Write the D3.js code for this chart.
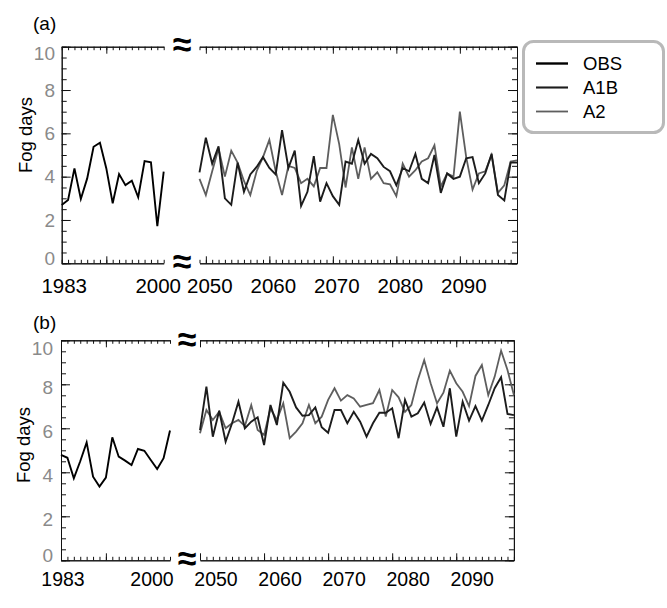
<!DOCTYPE html>
<html><head><meta charset="utf-8">
<script src="https://cdn.jsdelivr.net/npm/d3@7"></script>
<style>body{margin:0;background:#fff} svg{display:block;font-family:"Liberation Sans",Arial,sans-serif}</style>
</head><body><svg id="c" width="667" height="608"></svg>
<script>
// ---------------- data ----------------
const obsYearsA = d3.range(1983, 2000);
const obsA = [2.69, 2.92, 4.38, 2.97, 3.92, 5.38, 5.57, 4.38, 2.77, 4.12, 3.61, 3.81, 3.05, 4.72, 4.66, 1.72, 4.23];
const obsYearsB = d3.range(1983, 2001);
const obsB = [4.79, 4.66, 3.73, 4.5, 5.36, 3.80, 3.35, 3.76, 5.59, 4.71, 4.53, 4.33, 5.06, 4.98, 4.56, 4.15, 4.64, 5.9];

const projYearsA = d3.range(2049, 2100);
const a1bA = [4.2, 5.8, 4.6, 5.4, 3.0, 2.7, 4.65, 3.3, 4.1, 4.45,
              4.9, 4.4, 4.1, 6.15, 4.4, 5.2, 2.65, 3.3, 4.95, 2.85,
              3.7, 3.1, 2.7, 4.7, 4.6, 5.7, 4.6, 5.05, 4.85, 4.45,
              4.25, 3.6, 4.4, 4.25, 5.05, 3.9, 3.7, 5.0, 3.25, 4.15,
              3.9, 4.0, 4.85, 4.9, 3.7, 4.15, 5.05, 3.15, 2.9, 4.65, 4.65];
const a2A = [3.9, 3.15, 4.25, 5.3, 4.0, 5.2, 4.65, 3.8, 3.15, 4.25,
             4.9, 5.7, 4.25, 3.15, 4.5, 4.4, 3.7, 3.9, 3.55, 4.4,
             4.4, 6.85, 5.5, 3.5, 5.35, 3.9, 5.35, 3.9, 4.2, 3.7,
             3.65, 3.1, 4.6, 4.0, 4.3, 4.7, 4.85, 5.45, 3.55, 4.15,
             4.0, 7.0, 4.9, 3.4, 4.15, 4.25, 5.0, 3.25, 3.6, 4.7, 4.75];

const projYearsB = d3.range(2050, 2100);
const a1bB = [5.92, 7.89, 5.62, 6.8, 5.39, 6.23, 7.21, 6.0, 6.3, 6.5,
              5.24, 7.06, 6.15, 8.07, 7.66, 6.95, 6.57, 6.6, 6.95, 6.05,
              5.8, 6.83, 6.83, 6.23, 6.75, 6.3, 5.62, 6.23, 6.71, 6.71,
              6.91, 5.55, 7.29, 6.53, 6.68, 7.17, 6.2, 6.95, 6.07, 7.82,
              5.62, 7.21, 6.35, 7.01, 6.35, 7.06, 7.82, 8.32, 6.65, 6.6];
const a2B = [5.77, 6.83, 6.38, 6.75, 6.0, 6.23, 6.38, 6.1, 7.06, 5.92,
             5.7, 6.9, 6.38, 7.14, 5.55, 5.85, 6.23, 7.06, 6.23, 6.53,
             7.29, 7.82, 7.26, 7.51, 7.36, 6.98, 7.06, 7.14, 7.74, 6.53,
             7.74, 7.41, 6.75, 7.06, 8.2, 9.1, 8.05, 7.14, 7.62, 8.62,
             8.05, 7.66, 7.01, 8.38, 8.88, 7.51, 8.35, 9.53, 8.65, 7.51];

const yTickValues = [0, 2, 4, 6, 8, 10];
const leftTickYears = [1983, 2000];
const rightTickYears = [2050, 2060, 2070, 2080, 2090];
const seriesNames = ["OBS", "A1B", "A2"];
const seriesColors = ["#000000", "#1c1c1c", "#5e5e5e"];
const yTitle = "Fog days";

// ---------------- layout ----------------
const panels = [
  { tag: "(a)", tagY: 30, top: 46.7, bottom: 263.3,
    xL: [61.7, 163.7], xR: [199.5, 517], domL: [1983, 1999], domR: [2049, 2099],
    obsYears: obsYearsA, obs: obsA, projYears: projYearsA, a1b: a1bA, a2: a2A,
    xLabY: 293, xLabSize: 20.5, dxL: [2.5, -5.5], dxR: 4,
    yLabX: 55, yLabOff: v => v === 10 ? 6.5 : v === 0 ? -5 : 0,
    titleX: 31.5, titleY: 135, brkX: 182, brkTop: 44, brkBot: 261 },
  { tag: "(b)", tagY: 329, top: 340.3, bottom: 560.3,
    xL: [61, 170], xR: [200, 513.9], domL: [1983, 2000], domR: [2050, 2099],
    obsYears: obsYearsB, obs: obsB, projYears: projYearsB, a1b: a1bB, a2: a2B,
    xLabY: 586, xLabSize: 19.5, dxL: [2, -18], dxR: 16,
    yLabX: 53, yLabOff: v => v === 10 ? 8 : v === 0 ? -5 : 3,
    titleX: 30, titleY: 445, brkX: 187, brkTop: 339, brkBot: 558 }
];

const svg = d3.select("#c");

panels.forEach(p => {
  const g = svg.append("g");
  const y = d3.scaleLinear().domain([0, 10]).range([p.bottom, p.top]);
  const xL = d3.scaleLinear().domain(p.domL).range(p.xL);
  const xR = d3.scaleLinear().domain(p.domR).range(p.xR);

  const minorY = d3.range(0, 10.001, 0.5);
  const styleAxis = sel => { sel.selectAll("path,line").attr("stroke", "#111").attr("stroke-width", 1); sel.selectAll("text").remove(); };

  // left section axes
  const yrsL = d3.range(p.domL[0], p.domL[1] + 1);
  g.append("g").attr("transform", `translate(0,${p.bottom})`)
    .call(d3.axisBottom(xL).tickValues(yrsL).tickSize(-3.5).tickSizeOuter(0)).call(styleAxis);
  g.append("g").attr("transform", `translate(0,${p.bottom})`)
    .call(d3.axisBottom(xL).tickValues([1990]).tickSize(-7).tickSizeOuter(0)).call(styleAxis);
  g.append("g").attr("transform", `translate(0,${p.top})`)
    .call(d3.axisTop(xL).tickValues(yrsL).tickSize(-3.5).tickSizeOuter(0)).call(styleAxis);
  g.append("g").attr("transform", `translate(0,${p.top})`)
    .call(d3.axisTop(xL).tickValues([1990]).tickSize(-7).tickSizeOuter(0)).call(styleAxis);
  g.append("g").attr("transform", `translate(${p.xL[0]},0)`)
    .call(d3.axisLeft(y).tickValues(minorY).tickSize(-5).tickSizeOuter(0)).call(styleAxis);
  g.append("g").attr("transform", `translate(${p.xL[0]},0)`)
    .call(d3.axisLeft(y).tickValues(yTickValues).tickSize(-9).tickSizeOuter(0)).call(styleAxis);

  // right section axes
  const yrsR = d3.range(Math.ceil(p.domR[0]), p.domR[1] + 1);
  g.append("g").attr("transform", `translate(0,${p.bottom})`)
    .call(d3.axisBottom(xR).tickValues(yrsR).tickSize(-3.5).tickSizeOuter(0)).call(styleAxis);
  g.append("g").attr("transform", `translate(0,${p.bottom})`)
    .call(d3.axisBottom(xR).tickValues(rightTickYears).tickSize(-7).tickSizeOuter(0)).call(styleAxis);
  g.append("g").attr("transform", `translate(0,${p.top})`)
    .call(d3.axisTop(xR).tickValues(yrsR).tickSize(-3.5).tickSizeOuter(0)).call(styleAxis);
  g.append("g").attr("transform", `translate(0,${p.top})`)
    .call(d3.axisTop(xR).tickValues(rightTickYears).tickSize(-7).tickSizeOuter(0)).call(styleAxis);
  g.append("g").attr("transform", `translate(${p.xR[1]},0)`)
    .call(d3.axisRight(y).tickValues(minorY).tickSize(-5).tickSizeOuter(0)).call(styleAxis);
  g.append("g").attr("transform", `translate(${p.xR[1]},0)`)
    .call(d3.axisRight(y).tickValues(yTickValues).tickSize(-9).tickSizeOuter(0)).call(styleAxis);

  // y tick labels
  g.selectAll(".yl").data(yTickValues).join("text")
    .attr("x", p.yLabX).attr("y", d => y(d) + p.yLabOff(d)).attr("dy", "0.35em")
    .attr("text-anchor", "end").attr("font-size", 19).attr("fill", "#8a8a8a").text(d => d);

  // x tick labels
  leftTickYears.forEach((yr, i) => {
    const xx = xL(Math.min(Math.max(yr, p.domL[0]), p.domL[1])) + p.dxL[i];
    g.append("text").attr("x", xx).attr("y", p.xLabY)
      .attr("text-anchor", "middle").attr("font-size", p.xLabSize).attr("fill", "#000").text(yr);
  });
  rightTickYears.forEach(yr => {
    g.append("text").attr("x", xR(yr) + p.dxR).attr("y", p.xLabY)
      .attr("text-anchor", "middle").attr("font-size", p.xLabSize).attr("fill", "#000").text(yr);
  });

  // y title
  g.append("text").attr("transform", `translate(${p.titleX},${p.titleY}) rotate(-90)`)
    .attr("text-anchor", "middle").attr("font-size", 18.5).attr("fill", "#000").text(yTitle);

  // panel tag
  g.append("text").attr("x", 33).attr("y", p.tagY).attr("font-size", 19).attr("fill", "#000").text(p.tag);

  // break symbols
  [p.brkTop, p.brkBot].forEach(by => {
    g.append("text").attr("x", p.brkX).attr("y", by).attr("dominant-baseline", "central")
      .attr("text-anchor", "middle").attr("font-size", 34).attr("font-weight", "bold").attr("fill", "#000").text("\u2248");
  });

  // lines
  const lineL = d3.line().x((d, i) => xL(p.obsYears[i])).y(d => y(d));
  const lineR = d3.line().x((d, i) => xR(p.projYears[i])).y(d => y(d));
  g.append("path").datum(p.a2).attr("d", lineR).attr("fill", "none")
    .attr("stroke", seriesColors[2]).attr("stroke-width", 1.8).attr("stroke-linejoin", "miter");
  g.append("path").datum(p.a1b).attr("d", lineR).attr("fill", "none")
    .attr("stroke", seriesColors[1]).attr("stroke-width", 1.9).attr("stroke-linejoin", "miter");
  g.append("path").datum(p.obs).attr("d", lineL).attr("fill", "none")
    .attr("stroke", seriesColors[0]).attr("stroke-width", 1.9).attr("stroke-linejoin", "miter");
});

// legend
const lg = svg.append("g");
lg.append("rect").attr("x", 523.5).attr("y", 41.5).attr("width", 140).attr("height", 91)
  .attr("rx", 10).attr("fill", "#fff").attr("stroke", "#b9b9b9").attr("stroke-width", 3);
const legY = d3.scalePoint().domain(seriesNames).range([63.5, 111.5]);
const legW = [2.4, 2.1, 1.8];
seriesNames.forEach((s, i) => {
  lg.append("line").attr("x1", 536).attr("x2", 568).attr("y1", legY(s)).attr("y2", legY(s))
    .attr("stroke", seriesColors[i]).attr("stroke-width", legW[i]);
  lg.append("text").attr("x", 583).attr("y", legY(s) + 6.5).attr("font-size", 18.5).attr("fill", "#000").text(s);
});
</script>
</body></html>
